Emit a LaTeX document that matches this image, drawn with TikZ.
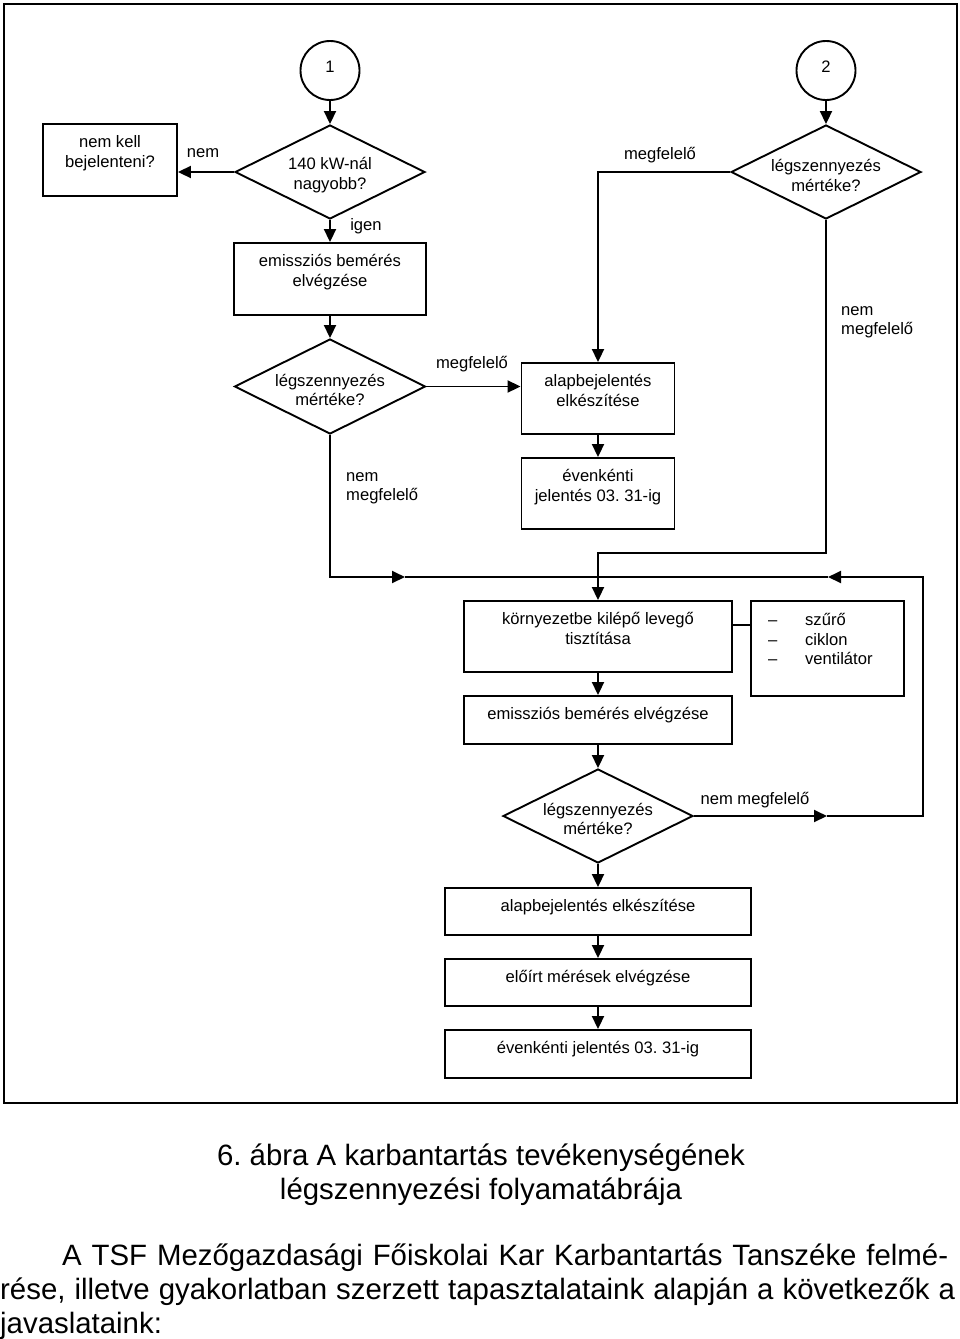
\documentclass[tikz,border=0pt]{standalone}
\usepackage{fontspec}
\setmainfont{Liberation Sans}
\usetikzlibrary{arrows.meta,shapes.geometric,calc}
\frenchspacing
\begin{document}
\begin{tikzpicture}[x=1pt,y=-1pt,
  ln/.style={line width=1.9pt},
  box/.style={draw, line width=1.9pt, inner sep=0pt, rectangle},
  dia/.style={draw, line width=1.9pt, inner sep=0pt, diamond, minimum width=190pt, minimum height=94pt},
  circ/.style={draw, line width=1.9pt, inner sep=0pt, circle, minimum size=59pt},
  txt/.style={font=\fontsize{16.6}{19.5}\selectfont, align=center, inner sep=0pt},
  arr/.style={line width=1.9pt, -{Triangle[length=13pt,width=12pt]}},
  captxt/.style={font=\fontsize{29.4}{34}\selectfont, inner sep=0pt}]

\useasboundingbox (0,0) rectangle (960,1339);
\draw[ln] (4,4) rectangle (957,1103);

% start circles
\node[circ] (c1) at (330,70.5) {};
\node[txt] (c1t) at ([yshift=4pt]c1.center) {1};
\node[circ] (c2) at (826,70.5) {};
\node[txt] (c2t) at ([yshift=4pt]c2.center) {2};

% diamonds
\node[dia] (d1) at (330,172) {};
\node[txt] (d1t) at ([yshift=-3pt]d1.center) {140 kW-nál\\nagyobb?};
\node[dia] (d2) at (826,172) {};
\node[txt] (d2t) at ([yshift=-3.5pt]d2.center) {légszennyezés\\mértéke?};
\node[dia, minimum width=191pt, minimum height=95pt] (d3) at (330,386.5) {};
\node[txt] (d3t) at ([yshift=-3.5pt]d3.center) {légszennyezés\\mértéke?};
\node[dia] (d4) at (598,816) {};
\node[txt] (d4t) at ([yshift=-3pt]d4.center) {légszennyezés\\mértéke?};

% boxes
\node[box, minimum width=134pt, minimum height=72pt] (nk) at (110,160) {};
\node[txt, anchor=north] (nkt) at ([yshift=-12.5pt]nk.north) {nem kell\\bejelenteni?};
\node[box, minimum width=192pt, minimum height=72pt] (e1) at (330,279) {};
\node[txt, anchor=north] (e1t) at ([yshift=-12.5pt]e1.north) {emissziós bemérés\\elvégzése};
\node[box, minimum width=153pt, minimum height=71pt] (a1) at (598,398.5) {};
\node[txt, anchor=north] (a1t) at ([yshift=-12.5pt]a1.north) {alapbejelentés\\elkészítése};
\node[box, minimum width=153pt, minimum height=71pt] (j1) at (598,493.5) {};
\node[txt, anchor=north] (j1t) at ([yshift=-12.5pt]j1.north) {évenkénti\\jelentés 03. 31-ig};
\node[box, minimum width=268pt, minimum height=71pt] (k1) at (598,636.5) {};
\node[txt, anchor=north] (k1t) at ([yshift=-12.5pt]k1.north) {környezetbe kilépő levegő\\tisztítása};
\node[box, minimum width=153pt, minimum height=95pt] (s1) at (827.5,648.5) {};
\node[txt, align=left, anchor=north west] (s1t) at (768,613.5) {\makebox[37pt][l]{–}szűrő\\\makebox[37pt][l]{–}ciklon\\\makebox[37pt][l]{–}ventilátor};
\node[box, minimum width=268pt, minimum height=48pt] (e2) at (598,720) {};
\node[txt, anchor=north] (e2t) at ([yshift=-12.5pt]e2.north) {emissziós bemérés elvégzése};
\node[box, minimum width=306pt, minimum height=47pt] (a2) at (598,911.5) {};
\node[txt, anchor=north] (a2t) at ([yshift=-12.5pt]a2.north) {alapbejelentés elkészítése};
\node[box, minimum width=306pt, minimum height=47pt] (m1) at (598,982.5) {};
\node[txt, anchor=north] (m1t) at ([yshift=-12.5pt]m1.north) {előírt mérések elvégzése};
\node[box, minimum width=306pt, minimum height=48pt] (j2) at (598,1054) {};
\node[txt, anchor=north] (j2t) at ([yshift=-12.5pt]j2.north) {évenkénti jelentés 03. 31-ig};

% connector labels
\node[txt] (lnem) at (203,153) {nem};
\node[txt] (ligen) at (366,226) {igen};
\node[txt] (lmf1) at (472,364) {megfelelő};
\node[txt] (lmf2) at (660,155) {megfelelő};
\node[txt, align=left, anchor=north west] (lnm1) at (346,472) {nem\\megfelelő};
\node[txt, align=left, anchor=north west] (lnm2) at (841,306) {nem\\megfelelő};
\node[txt] (lnm3) at (755,800) {nem megfelelő};

% helper coordinates
\coordinate (p1) at (330,577);
\coordinate (p2) at (405,577);
\coordinate (jn) at (598,577);
\coordinate (p3) at (923,577);
\coordinate (p4) at (923,816);
\coordinate (p5) at (827,816);
\coordinate (p6) at (828,577);
\coordinate (q2) at (826,553);
\coordinate (q3) at (598,553);
\coordinate (sc) at (741,625);

% connectors
\draw[arr] (c1) -- (d1.north);
\draw[arr] (c2) -- (d2.north);
\draw[arr] (d1.west) -- (d1.west -| nk.east);
\draw[arr] (d1.south) -- (e1.north);
\draw[arr] (e1.south) -- (d3.north);
\draw[arr] (d3.east) -- (d3.east -| a1.west);
\draw[arr] (d2.west) -- (d2.west -| a1.north) -- (a1.north);
\draw[arr] (a1.south) -- (j1.north);
\draw[arr] (d2.south) -- (q2) -- (q3) -- (k1.north);
\draw[arr] (d3.south) -- (p1) -- (p2);
\draw[ln] (p2) -- (jn);
\draw[arr] (d4.east) -- (p5);
\draw[arr] (p5) -- (p4) -- (p3) -- (p6);
\draw[ln] (p6) -- (jn);
\draw[ln] (sc -| k1.east) -- (sc -| s1.west);
\draw[arr] (k1.south) -- (e2.north);
\draw[arr] (e2.south) -- (d4.north);
\draw[arr] (d4.south) -- (a2.north);
\draw[arr] (a2.south) -- (m1.north);
\draw[arr] (m1.south) -- (j2.north);

% caption and text
\node[captxt, anchor=base] (cap1) at (481,1165) {6. ábra A karbantartás tevékenységének};
\node[captxt, anchor=base] (cap2) at (481,1199) {légszennyezési folyamatábrája};
\node[captxt, anchor=base west] (par1) at (62,1265) {\makebox[886pt][s]{A TSF Mezőgazdasági Főiskolai Kar Karbantartás Tanszéke felmé-}};
\node[captxt, anchor=base west] (par2) at (0,1299) {\makebox[955pt][s]{rése, illetve gyakorlatban szerzett tapasztalataink alapján a következők a}};
\node[captxt, anchor=base west] (par3) at (0,1333) {javaslataink:};
\end{tikzpicture}
\end{document}
